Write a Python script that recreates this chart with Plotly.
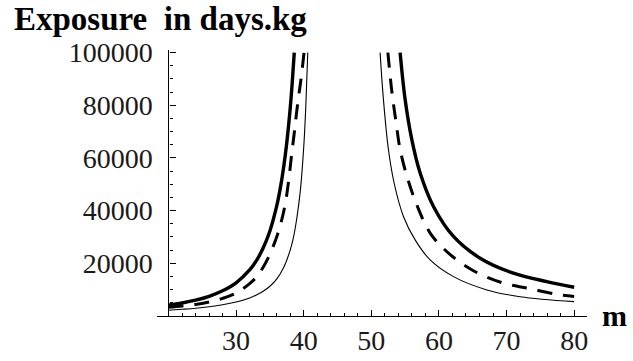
import plotly.graph_objects as go

# ---- data ----
# left branch (curves rising towards an asymptote)
m_left_thick = [20, 22, 24, 26, 28, 30, 32, 33, 34, 35, 36, 36.5, 37, 37.5, 38, 38.3, 38.6]
v_left_thick = [4150, 4950, 6000, 7450, 9550, 12600, 17500, 21000, 25800, 32300, 41700,
                48000, 55900, 65900, 78800, 88500, 100000]

m_left_dashed = [20, 22, 24, 26, 28, 30, 32, 33, 34, 35, 36, 36.7, 37.3, 37.8, 38.2, 38.6,
                 39.1, 39.6, 40.05]
v_left_dashed = [3300, 3800, 4400, 5300, 6700, 8700, 12300, 14800, 18500, 23500, 30000,
                 36000, 43000, 52000, 61000, 69500, 80500, 90000, 100000]

m_left_thin = [20, 22, 24, 26, 28, 30, 32, 33, 34, 35, 36, 37, 38, 38.5, 39, 39.5, 40, 40.3, 40.6]
v_left_thin = [2200, 2550, 2950, 3500, 4250, 5300, 6850, 8000, 9400, 11300, 14000, 18200,
               25000, 30000, 37500, 47500, 64000, 79000, 100000]

# right branch (curves falling from an asymptote)
m_right_thick = [54.26, 55.0, 55.99, 57.22, 59.19, 62.15, 66.09, 71.02, 75.96, 80]
v_right_thick = [100000, 82200, 67000, 54300, 41600, 30200, 21950, 16250, 13050, 10900]

m_right_dashed = [52.45, 53.03, 53.67, 54.26, 55.34, 56.73, 58.70, 61.41, 65.10, 69.30,
                  73.24, 77.93, 80]
v_right_dashed = [100000, 85300, 73300, 63200, 52400, 42200, 31500, 23900, 17200, 12670,
                  10500, 8000, 7400]

m_right_thin = [51.30, 51.79, 52.53, 53.37, 54.75, 56.48, 58.70, 62.15, 67.09, 72.01, 80]
v_right_thin = [100000, 82200, 63200, 50500, 37800, 28900, 21300, 14950, 9900, 7340, 5450]

x_ticks = [30, 40, 50, 60, 70, 80]
x_tick_text = ["30", "40", "50", "60", "70", "80"]
x_minor = [22, 24, 26, 28, 32, 34, 36, 38, 42, 44, 46, 48, 52, 54, 56, 58, 62, 64, 66, 68,
           72, 74, 76, 78]
y_ticks = [20000, 40000, 60000, 80000, 100000]
y_tick_text = ["20000", "40000", "60000", "80000", "100000"]
y_minor = [5000, 10000, 15000, 25000, 30000, 35000, 45000, 50000, 55000, 65000, 70000,
           75000, 85000, 90000, 95000]

title_text = "Exposure\u00a0\u00a0in days.kg"
x_label = "m"

# ---- figure ----
W, H = 633, 361
L, R, T, B = 157, 46, 50, 45
x_range = [18.3, 81.9]
y_range = [0, 101000]

fig = go.Figure()

styles = {
    "thick": dict(color="black", width=3.4),
    "dashed": dict(color="black", width=3.0, dash="15px,11px"),
    "thin": dict(color="black", width=1.1),
}

for mx, vy, st in [
    (m_left_thick, v_left_thick, "thick"),
    (m_right_thick, v_right_thick, "thick"),
    (m_left_dashed, v_left_dashed, "dashed"),
    (m_right_dashed, v_right_dashed, "dashed"),
    (m_left_thin, v_left_thin, "thin"),
    (m_right_thin, v_right_thin, "thin"),
]:
    fig.add_trace(go.Scatter(x=mx, y=vy, mode="lines", line=dict(shape="spline", **styles[st]),
                             showlegend=False, hoverinfo="skip"))

serif = "Liberation Serif, Times New Roman, serif"
tick_font = dict(family=serif, size=28, color="#1a1a1a")
ypos = (20 - x_range[0]) / (x_range[1] - x_range[0])

fig.update_layout(
    width=W, height=H,
    margin=dict(l=L, r=R, t=T, b=B, pad=0, autoexpand=False),
    paper_bgcolor="white", plot_bgcolor="white",
    title=dict(text="<b>" + title_text + "</b>", x=14 / W, xanchor="left", xref="container",
               y=1 - 7 / H, yanchor="top", yref="container",
               font=dict(family=serif, size=33, color="black")),
    xaxis=dict(range=x_range, showgrid=False, zeroline=False, showline=True,
               automargin=False,
               linecolor="black", linewidth=1.2, ticks="inside", ticklen=6,
               tickcolor="black", tickwidth=1, tickmode="array", tickvals=x_ticks,
               ticktext=x_tick_text,
               tickfont=tick_font, ticklabelstandoff=-1,
               minor=dict(tickmode="array", tickvals=x_minor, ticks="inside", ticklen=3,
                          tickcolor="black", tickwidth=1, showgrid=False)),
    yaxis=dict(range=y_range, showgrid=False, zeroline=False, showline=True,
               automargin=False,
               linecolor="black", linewidth=1.2, anchor="free", position=ypos,
               ticks="inside", ticklen=6, tickcolor="black", tickwidth=1,
               tickmode="array", tickvals=y_ticks, ticktext=y_tick_text, tickfont=tick_font,
               ticklabelstandoff=10,
               minor=dict(tickmode="array", tickvals=y_minor, ticks="inside", ticklen=3,
                          tickcolor="black", tickwidth=1, showgrid=False)),
    annotations=[dict(text="<b>" + x_label + "</b>", xref="paper", yref="paper",
                      x=(600 - L) / (W - L - R), y=0.002, xanchor="left", yanchor="middle",
                      showarrow=False,
                      font=dict(family=serif, size=30, color="black"))],
)

fig.write_html("out.html")
